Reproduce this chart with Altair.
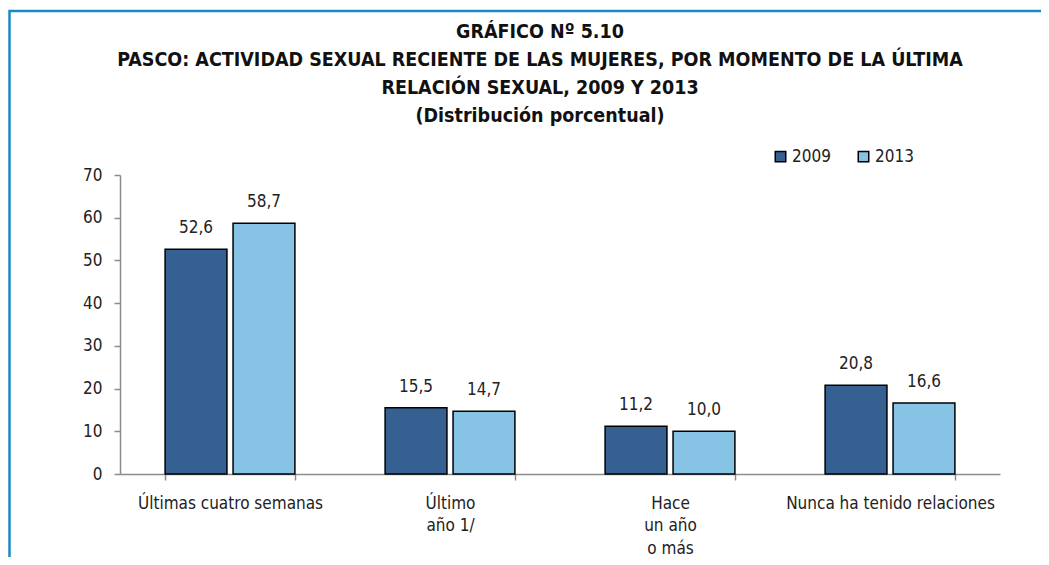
import altair as alt
import pandas as pd

categories = ["Últimas cuatro semanas", "Último|año 1/", "Hace|un año|o más", "Nunca ha tenido relaciones"]
years = ["2009", "2013"]
values_2009 = [52.6, 15.5, 11.2, 20.8]
values_2013 = [58.7, 14.7, 10.0, 16.6]
colors = ["#366092", "#86C3E5"]

rows = []
for c, v9, v13 in zip(categories, values_2009, values_2013):
    rows.append({"cat": c, "year": "2009", "value": v9, "label": f"{v9:.1f}".replace(".", ",")})
    rows.append({"cat": c, "year": "2013", "value": v13, "label": f"{v13:.1f}".replace(".", ",")})
df = pd.DataFrame(rows)

FONT = "Liberation Sans Narrow, Arial Narrow, DejaVu Sans Condensed, sans-serif"

x = alt.X("cat:N", sort=categories, title=None,
          scale=alt.Scale(paddingInner=0.41, paddingOuter=0.205),
          axis=alt.Axis(labelAngle=0, labelExpr="split(datum.label, '|')",
                        labelFontSize=17, labelColor="#222222", labelFont=FONT,
                        labelLineHeight=22.5, labelPadding=15, labelBaseline="top",
                        labelLimit=0,
                        domainColor="#8c8c8c", tickColor="#8c8c8c", tickSize=6,
                        tickBand="extent", domainWidth=1.5, tickWidth=1.5))
xo = alt.XOffset("year:N", sort=years, scale=alt.Scale(paddingInner=0.09, paddingOuter=0))
y = alt.Y("value:Q", title=None,
          scale=alt.Scale(domain=[0, 70]),
          axis=alt.Axis(values=[0, 10, 20, 30, 40, 50, 60, 70], grid=False,
                        labelFontSize=17, labelColor="#222222", labelFont=FONT,
                        labelPadding=12, domainColor="#8c8c8c", tickColor="#8c8c8c",
                        tickSize=6, domainWidth=1.5, tickWidth=1.5))

bars = alt.Chart(df).mark_bar(stroke="black", strokeWidth=1.5).encode(
    x=x, xOffset=xo, y=y,
    color=alt.Color("year:N", sort=years, title=None,
                    scale=alt.Scale(domain=years, range=colors),
                    legend=alt.Legend(orient="none", legendX=652, legendY=-27,
                                      direction="horizontal", symbolType="square",
                                      symbolSize=110, symbolStrokeColor="black",
                                      symbolStrokeWidth=1.5, labelFontSize=17,
                                      labelFont=FONT, labelColor="#222222",
                                      columnPadding=24, labelOffset=3)),
)

labels = alt.Chart(df).mark_text(baseline="bottom", dy=-12, fontSize=17, font=FONT,
                                 color="#222222").encode(
    x=alt.X("cat:N", sort=categories), xOffset=alt.XOffset("year:N", sort=years), y="value:Q",
    text="label:N")

border = alt.Chart(pd.DataFrame({"k": [0]})).mark_rect(
    fill=None, stroke="#1a8ac6", strokeWidth=2.5).encode(
    x=alt.value(-110.5), x2=alt.value(960), y=alt.value(-164), y2=alt.value(420))

chart = alt.layer(border, bars, labels).properties(
    width=880, height=299,
    title=alt.TitleParams(
        ["GRÁFICO Nº 5.10",
         "PASCO: ACTIVIDAD SEXUAL RECIENTE DE LAS MUJERES, POR MOMENTO DE LA ÚLTIMA",
         "RELACIÓN SEXUAL, 2009 Y 2013",
         "(Distribución porcentual)"],
        fontSize=19.5, font=FONT, fontWeight="bold", color="#111111",
        lineHeight=28, anchor="middle", dx=-20, offset=-117),
    autosize=alt.AutoSizeParams(type="none"),
    padding={"left": 112, "top": 167, "right": 41, "bottom": 83},
).configure(background="white").configure_view(stroke=None)

chart.save("out.html", embed_options={"renderer": "svg", "actions": False})
